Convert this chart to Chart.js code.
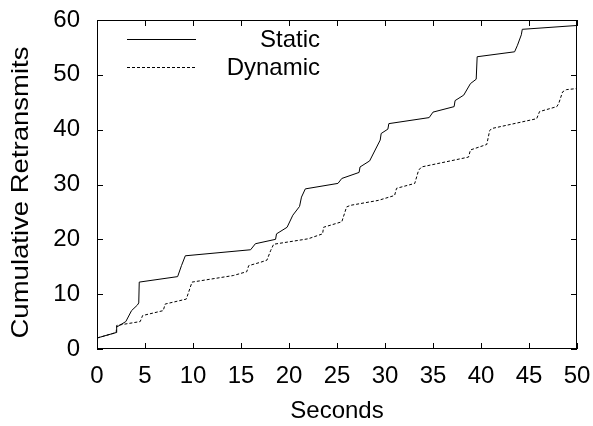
<!DOCTYPE html>
<html>
<head>
<meta charset="utf-8">
<script src="https://cdn.jsdelivr.net/npm/chart.js@4"></script>
<style>
    html, body { margin: 0; padding: 0; background: #fff; }
    #wrap { width: 593px; height: 426px; }
</style>
</head>
<body>
<div id="wrap"><canvas id="retxChart" width="593" height="426"></canvas></div>
<script>
// series (seconds, cumulative retransmits)
const staticX = [0, 2, 2.05, 3.0, 3.6, 4.2, 4.35, 4.4, 8.4, 8.8, 9.2, 16.0, 16.5, 18.6, 18.7, 19.8, 20.4, 21.1, 21.3, 21.7, 25.1, 25.5, 27.3, 27.4, 28.4, 29.5, 29.6, 30.3, 30.4, 34.6, 35.0, 37.2, 37.3, 38.2, 38.9, 39.5, 39.6, 43.5, 43.8, 44.2, 44.3, 50];
const staticY = [2, 3, 4, 5, 7, 8, 8.4, 12.2, 13.2, 15.2, 17, 18.1, 19.2, 20, 21, 22.2, 24.4, 26, 27.7, 29.2, 30.2, 31.1, 32.2, 33.2, 34.3, 38.1, 39.3, 40.1, 41.1, 42.2, 43.2, 44.2, 45.3, 46.3, 48.4, 49.2, 53.3, 54.2, 55.4, 57.3, 58.3, 59];
const dynamicX = [0, 2, 2.05, 4.5, 4.75, 6.9, 7.1, 9.3, 9.9, 14.2, 15.6, 15.8, 17.0, 17.7, 18.1, 18.4, 22.0, 23.5, 23.6, 25.5, 26.0, 26.4, 29.3, 31.0, 31.2, 33.1, 33.5, 33.8, 36.8, 38.7, 38.9, 40.6, 40.9, 41.1, 45.8, 46.1, 47.9, 48.1, 48.5, 48.9, 50];
const dynamicY = [2, 3, 4.3, 5.0, 6.1, 7.0, 8.2, 9.1, 12.2, 13.4, 14.1, 15.2, 15.8, 16.2, 18, 19.1, 20.1, 21, 22.2, 23.2, 25.9, 26.2, 27.1, 28, 29.3, 30.2, 32.6, 33.2, 34.3, 35, 36.3, 37.3, 39.8, 40.2, 42, 43.3, 44.2, 44.8, 46.9, 47.3, 47.5];
const seriesNames = ['Static', 'Dynamic'];
const xTicks = [0, 5, 10, 15, 20, 25, 30, 35, 40, 45, 50];
const yTicks = [0, 10, 20, 30, 40, 50, 60];
const yTitle = 'Cumulative Retransmits';

const FONT = 'Arial, "Liberation Sans", sans-serif';

function toPoints(xs, ys) {
    return xs.map((x, i) => ({ x: x, y: ys[i] }));
}

// gnuplot style frame: box around the plot with inward ticks on all sides
const framePlugin = {
    id: 'frame',
    afterDatasetsDraw(chart) {
        const { ctx, chartArea: a, scales } = chart;
        const len = 6;
        ctx.save();
        ctx.strokeStyle = '#000';
        ctx.lineWidth = 1;
        ctx.strokeRect(a.left + 0.5, a.top + 0.5, a.right - a.left - 1, a.bottom - a.top - 1);
        ctx.beginPath();
        xTicks.forEach(v => {
            const px = Math.round(scales.x.getPixelForValue(v)) + 0.5;
            ctx.moveTo(px, a.bottom); ctx.lineTo(px, a.bottom - len);
            ctx.moveTo(px, a.top); ctx.lineTo(px, a.top + len);
        });
        yTicks.forEach(v => {
            const py = Math.round(scales.y.getPixelForValue(v)) + 0.5;
            ctx.moveTo(a.left, py); ctx.lineTo(a.left + len, py);
            ctx.moveTo(a.right, py); ctx.lineTo(a.right - len, py);
        });
        ctx.stroke();

        // legend, inside the top left corner
        ctx.font = '24px ' + FONT;
        ctx.fillStyle = '#000';
        ctx.textAlign = 'right';
        ctx.textBaseline = 'alphabetic';
        const rows = [39, 66.5];
        chart.data.datasets.forEach((ds, i) => {
            const y = Math.round(rows[i]) + 0.5;
            ctx.setLineDash(ds.borderDash || []);
            ctx.beginPath();
            ctx.moveTo(127, y);
            ctx.lineTo(196, y);
            ctx.stroke();
            ctx.fillText(ds.label, 320, rows[i] + 8);
        });

        // y axis title, stretched along its length like the original
        ctx.setLineDash([]);
        ctx.translate(27.5, 192.5);
        ctx.rotate(-Math.PI / 2);
        ctx.textAlign = 'center';
        const w = ctx.measureText(yTitle).width;
        ctx.scale(292 / w, 1);
        ctx.fillText(yTitle, 0, 0);
        ctx.restore();
    }
};

const ctx = document.getElementById('retxChart').getContext('2d');
new Chart(ctx, {
    type: 'scatter',
    data: {
        datasets: [{
            label: seriesNames[0],
            data: toPoints(staticX, staticY),
            showLine: true,
            borderColor: '#000',
            borderWidth: 1,
            pointRadius: 0,
            tension: 0
        }, {
            label: seriesNames[1],
            data: toPoints(dynamicX, dynamicY),
            showLine: true,
            borderColor: '#000',
            borderWidth: 1,
            borderDash: [3, 2],
            pointRadius: 0,
            tension: 0
        }]
    },
    options: {
        responsive: false,
        animation: false,
        layout: { padding: { top: 20, right: 16, left: 0, bottom: 0 } },
        plugins: {
            legend: { display: false },
            tooltip: { enabled: false }
        },
        scales: {
            x: {
                type: 'linear',
                min: 0,
                max: 50,
                afterFit(scale) {
                    scale.height = 77;
                    scale.paddingLeft = 0;
                    scale.paddingRight = 0;
                },
                afterBuildTicks(scale) { scale.ticks = xTicks.map(v => ({ value: v })); },
                grid: { display: false, drawTicks: false },
                border: { display: false },
                ticks: {
                    color: '#000',
                    font: { family: FONT, size: 24 },
                    padding: 13,
                    maxRotation: 0
                },
                title: {
                    display: true,
                    text: 'Seconds',
                    color: '#000',
                    font: { family: FONT, size: 24 },
                    padding: { top: 0, bottom: 0 }
                }
            },
            y: {
                type: 'linear',
                min: 0,
                max: 60,
                afterFit(scale) {
                    scale.width = 97;
                    scale.paddingTop = 0;
                    scale.paddingBottom = 0;
                },
                afterBuildTicks(scale) { scale.ticks = yTicks.map(v => ({ value: v })); },
                grid: { display: false, drawTicks: false },
                border: { display: false },
                ticks: {
                    color: '#000',
                    font: { family: FONT, size: 24 },
                    padding: 17
                },
                title: { display: false }
            }
        }
    },
    plugins: [framePlugin]
});
</script>
</body>
</html>
